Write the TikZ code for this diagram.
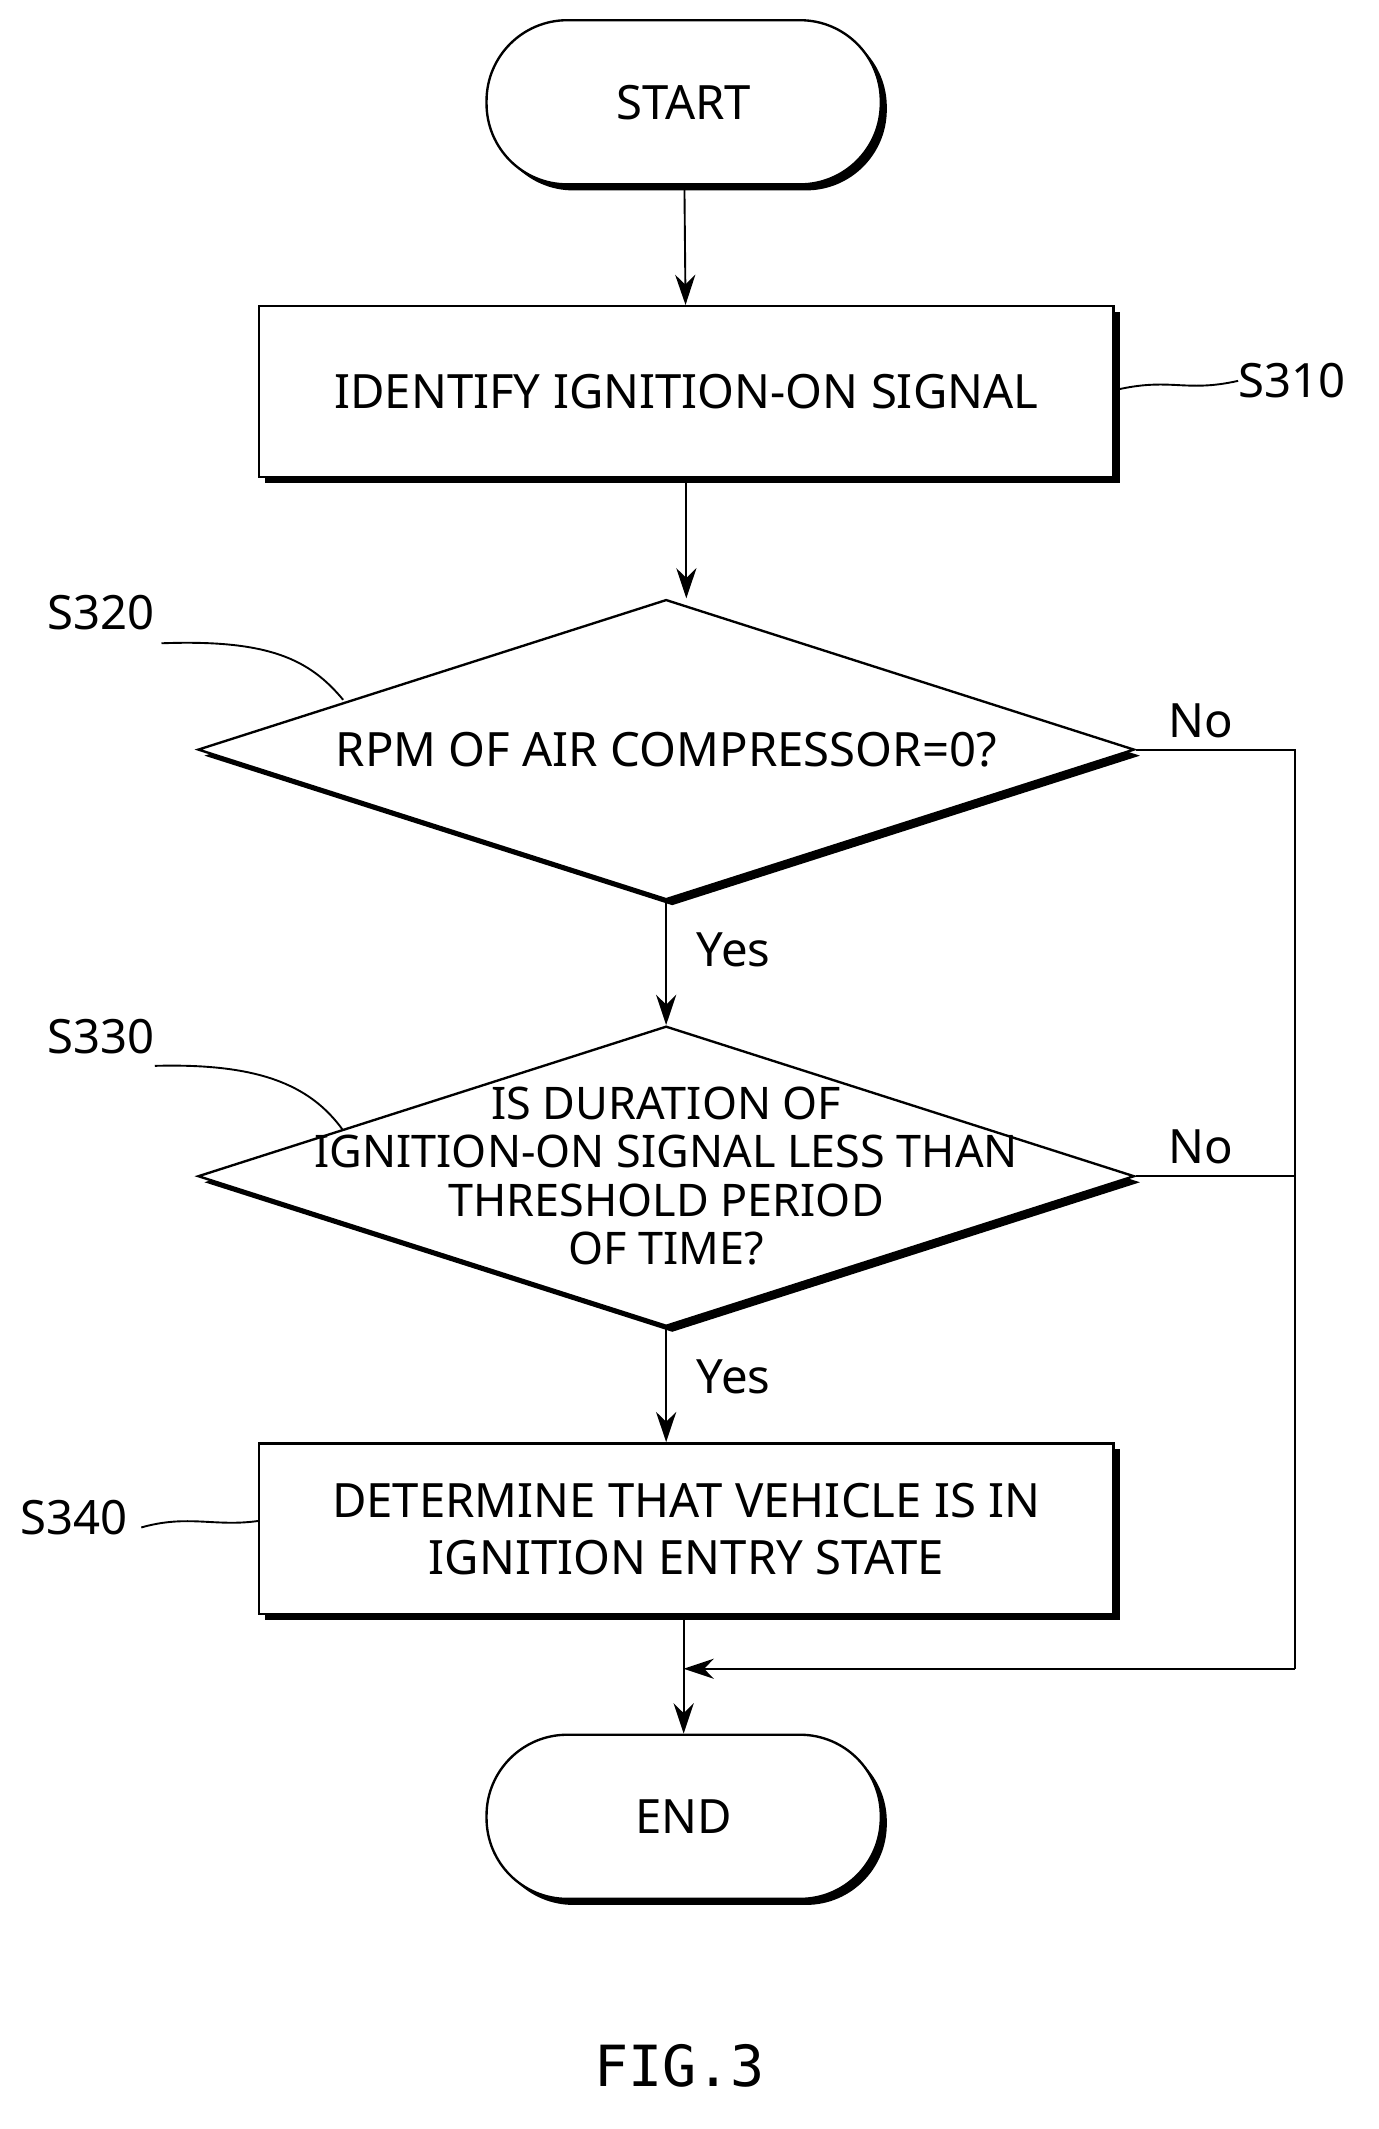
\documentclass[tikz,border=0pt]{standalone}
\usepackage{fontspec}
\setmainfont{Noto Sans}
\newfontfamily\figfont{DejaVu Sans Mono}
\usetikzlibrary{shapes.geometric,shadows,arrows.meta}
\begin{document}
\begin{tikzpicture}[x=0.02cm,y=-0.02cm,
  font=\fontsize{20}{24}\selectfont,
  sh/.style={draw,line width=1pt,fill=white,drop shadow={opacity=1,fill=black,shadow xshift=0.09cm,shadow yshift=-0.09cm}},
  term/.style={sh,rounded corners=1.2cm,minimum width=5.86cm,minimum height=2.44cm},
  box/.style={sh,minimum width=12.7cm,minimum height=2.54cm,align=center},
  dia/.style={sh,diamond,minimum width=13.92cm,minimum height=4.46cm,inner sep=0pt},
  ar/.style={-{Stealth[length=0.45cm,width=0.3cm]},line width=0.8pt},
  ln/.style={line width=0.8pt},
  lab/.style={font=\fontsize{20}{24}\selectfont}]
\useasboundingbox (0,0) rectangle (1024,1582);
\node[term] (start) at (508,76) {START};
\node[box] (s310) at (510,291) {IDENTIFY IGNITION-ON SIGNAL};
\node[dia] (d1) at (495,557) {};
\node at (d1.center) {RPM OF AIR COMPRESSOR=0?};
\node[dia] (d2) at (495,874) {};
\node[align=center,font=\fontsize{19}{20.5}\selectfont] at (d2.center) {IS DURATION OF\\IGNITION-ON SIGNAL LESS THAN\\THRESHOLD PERIOD\\OF TIME?};
\node[box] (s340) at (510,1136) {DETERMINE THAT VEHICLE IS IN\\IGNITION ENTRY STATE};
\node[term] (end) at (508,1350) {END};
\coordinate (c1) at (962,1240);
\coordinate (c2) at (508,1240);
\draw[ar] (start) -- (s310);
\draw[ar] (s310) -- (s310 |- d1.north);
\draw[ar] (d1.south) -- (d2.north);
\draw[ar] (d2.south) -- (s340.north -| d2.south);
\draw[ar] (s340.south -| start) -- (end);
\draw[ln] (d1.east) -- (d1.east -| c1) -- (c1);
\draw[ln] (d2.east) -- (d2.east -| c1);
\draw[ar] (c1) -- (c2);
\node[lab] at (892,536) {No};
\node[lab] at (892,852) {No};
\node[lab] at (545,706) {Yes};
\node[lab] at (545,1023) {Yes};
\node[lab] (l310) at (960,283) {S310};
\node[lab] (l320) at (75,455) {S320};
\node[lab] (l330) at (75,770) {S330};
\node[lab] (l340) at (55,1128) {S340};
\draw[ln] (828,290) .. controls (870,280) and (880,292) .. (920,283);
\draw[ln] (120,478) .. controls (200,475) and (230,490) .. (255,520);
\draw[ln] (115,792) .. controls (190,790) and (230,805) .. (255,840);
\draw[ln] (105,1135) .. controls (140,1125) and (160,1135) .. (193,1130);
\node[font=\figfont\fontsize{24}{28}\selectfont] (fig) at (505,1535) {FIG.3};
\end{tikzpicture}
\end{document}
